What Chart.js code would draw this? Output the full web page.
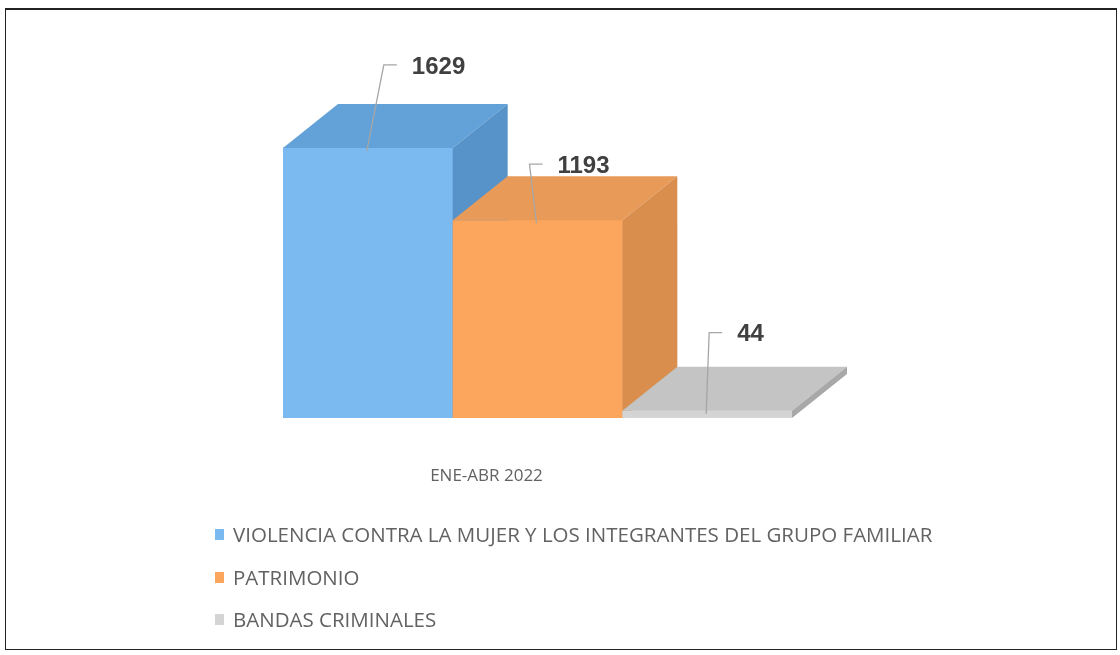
<!DOCTYPE html>
<html>
<head>
<meta charset="utf-8">
<script src="https://cdn.jsdelivr.net/npm/chart.js@4.4.0/dist/chart.umd.min.js"></script>
<style>
  html, body { margin: 0; padding: 0; background: #ffffff; }
  #wrap { position: relative; width: 1120px; height: 655px; overflow: hidden; }
  #frame { position: absolute; left: 5px; top: 8px; width: 1112px; height: 642px;
           border: 1.5px solid #222; border-top-width: 2px; box-sizing: border-box; pointer-events: none; }
  canvas { position: absolute; left: 0; top: 0; }
  #legend { position: absolute; left: 215px; top: 520px; font-family: "Open Sans", sans-serif;
            font-size: 20.5px; color: #626262; line-height: 28px; }
  .item { height: 42.5px; display: flex; align-items: flex-start; }
  .sw { width: 9px; height: 11px; margin-top: 9px; margin-right: 9px; flex: none; }
</style>
</head>
<body>
<div id="wrap">
  <canvas id="c" width="1120" height="655"></canvas>
  <div id="frame"></div>
  <div id="legend"></div>
</div>
<script>
// ---- data ----
const categories = ["ENE-ABR 2022"];
const seriesNames = [
  "VIOLENCIA CONTRA LA MUJER Y LOS INTEGRANTES DEL GRUPO FAMILIAR",
  "PATRIMONIO",
  "BANDAS CRIMINALES"
];
const seriesValues = [1629, 1193, 44];

// ---- styles ----
const frontColors = ["#7bbaf0", "#fba65c", "#d4d4d4"];
const topColors   = ["#62a2d8", "#e89a58", "#c4c4c4"];
const sideColors  = ["#5792c8", "#d98e4e", "#a8a8a8"];
const labelOffsets = [[44, -81], [20, -54], [30, -76]]; // label position relative to bar top centre
const DEPTH_X = 55, DEPTH_Y = 44;

const datasets = seriesNames.map((name, i) => ({
  label: name,
  data: [seriesValues[i]],
  backgroundColor: frontColors[i],
  borderWidth: 0
}));

const bars3d = {
  id: 'bars3d',
  afterDatasetsDraw(chart) {
    const ctx = chart.ctx;
    ctx.save();
    chart.data.datasets.forEach((ds, i) => {
      const meta = chart.getDatasetMeta(i);
      meta.data.forEach(bar => {
        const l = bar.x - bar.width / 2, r = bar.x + bar.width / 2;
        const t = bar.y, b = bar.base;
        // front
        ctx.fillStyle = frontColors[i];
        ctx.fillRect(l, t, r - l, b - t);
        // top
        ctx.fillStyle = topColors[i];
        ctx.beginPath();
        ctx.moveTo(l, t); ctx.lineTo(l + DEPTH_X, t - DEPTH_Y);
        ctx.lineTo(r + DEPTH_X, t - DEPTH_Y); ctx.lineTo(r, t); ctx.closePath(); ctx.fill();
        // side
        ctx.fillStyle = sideColors[i];
        ctx.beginPath();
        ctx.moveTo(r, t); ctx.lineTo(r + DEPTH_X, t - DEPTH_Y);
        ctx.lineTo(r + DEPTH_X, b - DEPTH_Y); ctx.lineTo(r, b); ctx.closePath(); ctx.fill();
      });
    });
    // labels with leader lines
    chart.data.datasets.forEach((ds, i) => {
      const meta = chart.getDatasetMeta(i);
      meta.data.forEach((bar, j) => {
        const tx = bar.x + labelOffsets[i][0];
        const ty = bar.y + labelOffsets[i][1];
        ctx.strokeStyle = "#a6a6a6";
        ctx.lineWidth = 1.3;
        ctx.beginPath();
        ctx.moveTo(bar.x - 1, bar.y + 3);
        ctx.lineTo(tx - 28, ty - 2);
        ctx.lineTo(tx - 15, ty - 2);
        ctx.stroke();
        ctx.fillStyle = "#404040";
        ctx.font = "bold 24px 'Liberation Sans', Arial, sans-serif";
        ctx.textAlign = "left";
        ctx.textBaseline = "middle";
        ctx.fillText(String(ds.data[j]), tx, ty);
      });
    });
    ctx.restore();
  }
};

const chart = new Chart(document.getElementById('c'), {
  type: 'bar',
  data: { labels: categories, datasets },
  options: {
    responsive: false,
    animation: false,
    events: [],
    layout: { padding: { left: 283, right: 328, top: 103, bottom: 0 } },
    datasets: { bar: { barPercentage: 1, categoryPercentage: 1 } },
    scales: {
      x: {
        grid: { display: false, drawTicks: false },
        border: { display: false },
        ticks: { color: "#626262", padding: 48, labelOffset: -51,
                 font: { family: "'Open Sans', sans-serif", size: 17 } },
        afterFit(scale) { scale.height = 237; }
      },
      y: { display: false, min: 0, max: 1900 }
    },
    plugins: { legend: { display: false }, tooltip: { enabled: false } }
  },
  plugins: [bars3d]
});

// HTML legend built from the chart's datasets
const legendEl = document.getElementById('legend');
chart.data.datasets.forEach(ds => {
  const row = document.createElement('div');
  row.className = 'item';
  const sw = document.createElement('span');
  sw.className = 'sw';
  sw.style.background = ds.backgroundColor;
  const tx = document.createElement('span');
  tx.textContent = ds.label;
  row.appendChild(sw); row.appendChild(tx);
  legendEl.appendChild(row);
});
</script>
</body>
</html>
